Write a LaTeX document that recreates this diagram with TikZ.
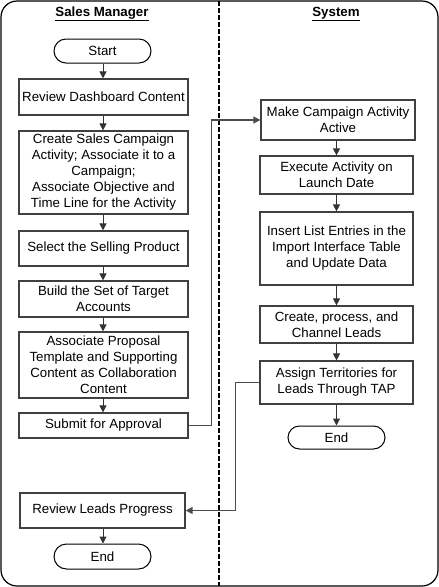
\documentclass[tikz,border=0pt]{standalone}
\usepackage{fontspec}
\setmainfont{Liberation Sans}
\usetikzlibrary{arrows.meta,shapes.misc}
\begin{document}
\begin{tikzpicture}[x=1pt,y=-1pt,
  every node/.style={font=\fontsize{13.3}{16}\selectfont, inner sep=0pt},
  box/.style={draw=black!75, line width=1.2pt, rectangle, align=center},
  term/.style={draw=black, line width=1pt, rounded rectangle, align=center},
  conn/.style={draw=black!80, line width=1pt, -{Triangle[length=7pt,width=7pt]}},
  link/.style={draw=black!70, line width=1.3pt, -{Triangle[length=7pt,width=7pt]}},
  title/.style={font=\fontsize{13.3}{16}\selectfont\bfseries}
]
\useasboundingbox (0,0) rectangle (439,587);
\draw[line width=1.2pt, rounded corners=16pt] (1,1) rectangle (438,586);
\draw[line width=1.3pt, dash pattern=on 5pt off 2pt] (219,1) -- (219,586);

\node[title] (t1) at (102,14) {\underline{Sales Manager}};
\node[title] (t2) at (336,14) {\underline{System}};

\node[term, minimum width=97pt, minimum height=24pt] (start) at (102.5,51) {Start};
\node[box, minimum width=169pt, minimum height=36pt] (rev) at (103.5,97) {Review Dashboard Content};
\node[box, minimum width=169pt, minimum height=83pt] (create) at (103.5,172.5) {Create Sales Campaign\\Activity; Associate it to a\\Campaign;\\Associate Objective and\\Time Line for the Activity};
\node[box, minimum width=169pt, minimum height=35pt] (sel) at (103.5,248.5) {Select the Selling Product};
\node[box, minimum width=169pt, minimum height=36pt] (build) at (103.5,299) {Build the Set of Target\\Accounts};
\node[box, minimum width=169pt, minimum height=66pt] (assoc) at (103.5,365) {Associate Proposal\\Template and Supporting\\Content as Collaboration\\Content};
\node[box, minimum width=169pt, minimum height=25pt] (sub) at (103.5,425.5) {Submit for Approval};
\node[box, minimum width=165pt, minimum height=35pt] (leads) at (102.5,510.5) {Review Leads Progress};
\node[term, minimum width=97pt, minimum height=25pt] (endl) at (102.5,556.5) {End};

\node[box, minimum width=154pt, minimum height=40pt] (make) at (338,120) {Make Campaign Activity\\Active};
\node[box, minimum width=153pt, minimum height=38pt] (exec) at (336.5,175) {Execute Activity on\\Launch Date};
\node[box, minimum width=153pt, minimum height=73pt] (ins) at (336.5,248.5) {Insert List Entries in the\\Import Interface Table\\and Update Data};
\node[box, minimum width=153pt, minimum height=37pt] (proc) at (336.5,324.5) {Create, process, and\\Channel Leads};
\node[box, minimum width=153pt, minimum height=43pt] (asg) at (336.5,382.5) {Assign Territories for\\Leads Through TAP};
\node[term, minimum width=97pt, minimum height=23pt] (endr) at (336.5,437.5) {End};

\draw[conn] (start.south -| 103,0) -- (rev.north -| 103,0);
\draw[conn] (rev.south -| 103,0) -- (create.north -| 103,0);
\draw[conn] (create.south -| 103,0) -- (sel.north -| 103,0);
\draw[conn] (sel.south -| 103,0) -- (build.north -| 103,0);
\draw[conn] (build.south -| 103,0) -- (assoc.north -| 103,0);
\draw[conn] (assoc.south -| 103,0) -- (sub.north -| 103,0);
\draw[conn] (leads.south -| 103,0) -- (endl.north -| 103,0);

\draw[conn] (make.south -| 336.5,0) -- (exec.north -| 336.5,0);
\draw[conn] (exec.south) -- (ins.north);
\draw[conn] (ins.south) -- (proc.north);
\draw[conn] (proc.south) -- (asg.north);
\draw[conn] (asg.south) -- (endr.north);

\draw[link] (sub.east) -- ++(23,0) |- (make.west);
\draw[link] (asg.west) -- ++(-24,0) |- (leads.east);
\end{tikzpicture}
\end{document}
